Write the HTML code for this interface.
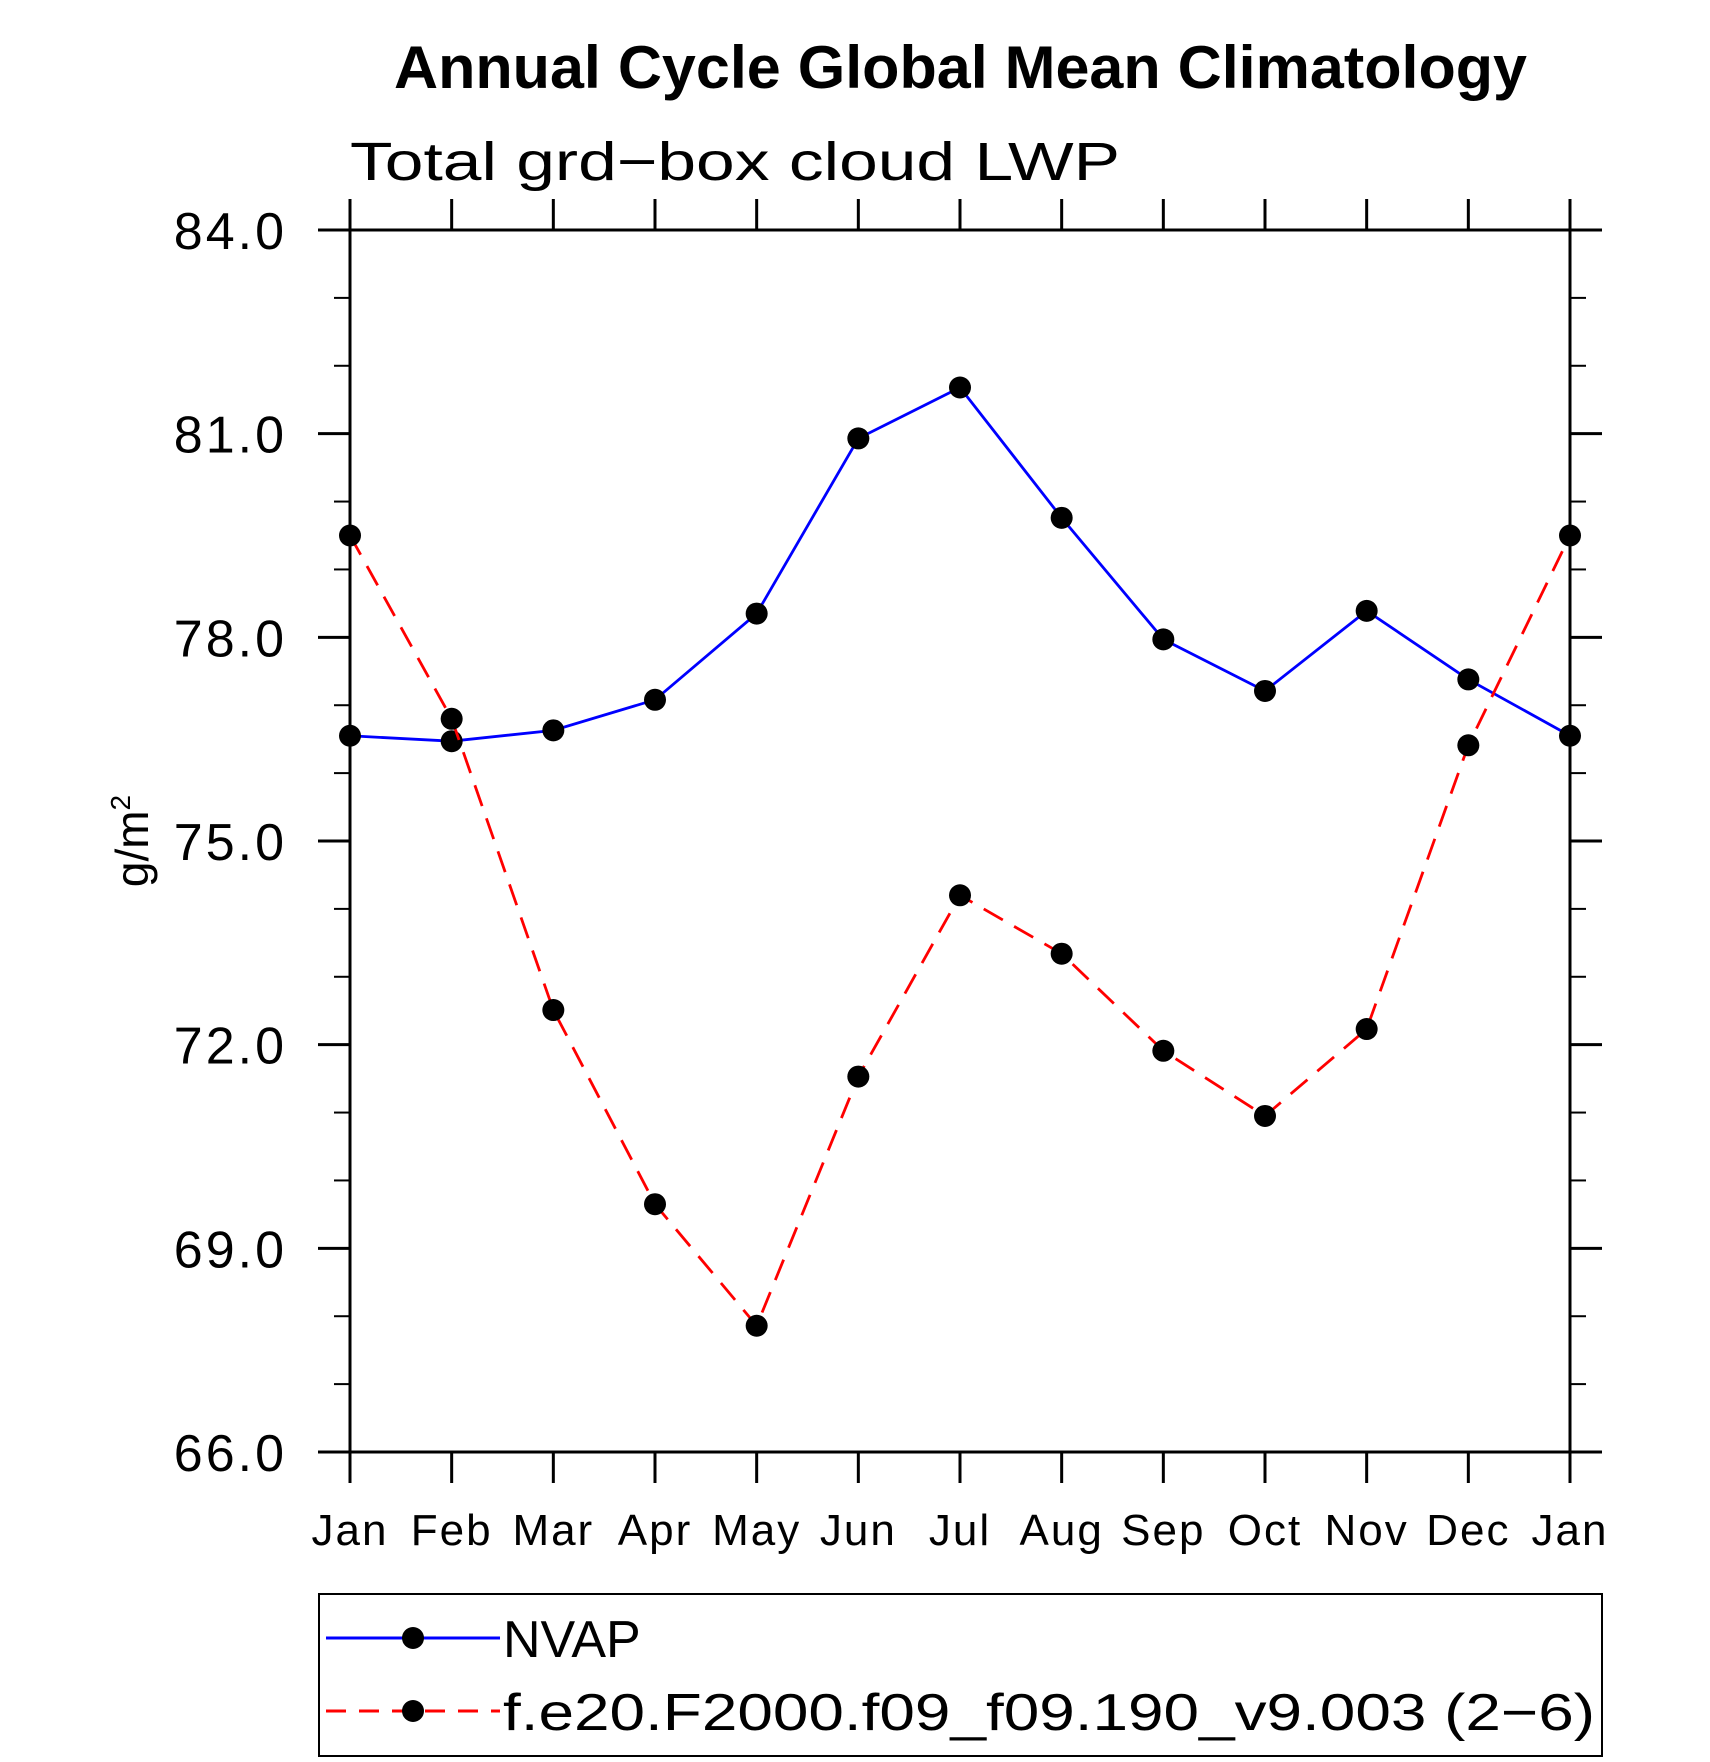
<!DOCTYPE html>
<html><head><meta charset="utf-8"><style>body{margin:0;background:#fff}svg{display:block}text{font-family:"Liberation Sans",sans-serif}</style></head>
<body>
<svg id="chart" width="1710" height="1762" viewBox="0 0 1710 1762" xmlns="http://www.w3.org/2000/svg">
<text x="394" y="88" font-size="60" font-weight="bold" textLength="1133" lengthAdjust="spacingAndGlyphs">Annual Cycle Global Mean Climatology</text>
<text x="350" y="180" font-size="54" textLength="770" lengthAdjust="spacingAndGlyphs">Total grd−box cloud LWP</text>
<text transform="translate(148,841) rotate(-90)" font-size="46" text-anchor="middle">g/m<tspan font-size="28" dy="-18">2</tspan></text>
<g id="grid"></g>
<g id="series"></g>
<rect x="350" y="230" width="1220" height="1222" fill="none" stroke="#000" stroke-width="3"/>
<g>
<rect x="319" y="1594" width="1283" height="162" fill="none" stroke="#000" stroke-width="2"/>
<line x1="326" y1="1638" x2="500" y2="1638" stroke="#00f" stroke-width="3"/>
<circle cx="413" cy="1638" r="11"/>
<text x="503" y="1657" font-size="52">NVAP</text>
<line x1="326" y1="1711" x2="500" y2="1711" stroke="#f00" stroke-width="3" stroke-dasharray="20,13"/>
<circle cx="413" cy="1711" r="11"/>
<text x="503" y="1730" font-size="52" textLength="1092" lengthAdjust="spacingAndGlyphs">f.e20.F2000.f09_f09.190_v9.003 (2−6)</text>
</g>
</svg>
<script>
const months = ["Jan","Feb","Mar","Apr","May","Jun","Jul","Aug","Sep","Oct","Nov","Dec","Jan"];
const nvap = [76.55,76.47,76.63,77.08,78.35,80.93,81.68,79.76,77.97,77.21,78.39,77.38,76.55];
const model = [79.5,76.8,72.51,69.65,67.86,71.53,74.2,73.34,71.91,70.95,72.23,76.41,79.5];
const yTicks = ["66.0","69.0","72.0","75.0","78.0","81.0","84.0"];
const NS="http://www.w3.org/2000/svg";
const X0=350,X1=1570,Y0=1452,Y1=230,YMIN=66,YMAX=84;
const xs=i=>X0+(X1-X0)*i/(months.length-1);
const ys=v=>Y0-(Y0-Y1)*(v-YMIN)/(YMAX-YMIN);
function mk(tag,attrs,parent){const e=document.createElementNS(NS,tag);for(const k in attrs)e.setAttribute(k,attrs[k]);parent.appendChild(e);return e;}
const g=document.getElementById('grid'),s=document.getElementById('series');
months.forEach((m,i)=>{
  const x=xs(i);
  const t=mk('line',{x1:x,x2:x,y1:Y0,y2:Y0+31,stroke:'#000','stroke-width':3},g);
  
  
  const t2=mk('line',{x1:x,x2:x,y1:Y1,y2:Y1-31,stroke:'#000','stroke-width':3},g);
  
  
  const l=mk('text',{x:x,y:1545,'font-size':44,'text-anchor':'middle','letter-spacing':2},g);
  l.textContent=m;
  
  
});
for(let v=YMIN;v<=YMAX;v++){
  const y=ys(v),maj=(v-YMIN)%3===0,len=maj?32:16;
  const a=mk('line',{x1:X0-len,x2:X0,y1:y,y2:y,stroke:'#000','stroke-width':maj?3:2},g);
  
  
  const b=mk('line',{x1:X1,x2:X1+len,y1:y,y2:y,stroke:'#000','stroke-width':maj?3:2},g);
  
  
}
yTicks.forEach(t=>{
  const l=mk('text',{x:287,y:ys(parseFloat(t))+19,'font-size':52,'text-anchor':'end','letter-spacing':3},g);
  l.textContent=t;
  
  
});
function series(vals,color,dash,name){
  const p=mk('polyline',{points:vals.map((v,i)=>xs(i)+','+ys(v)).join(' '),fill:'none',stroke:color,'stroke-width':2.8},s);
  if(dash)p.setAttribute('stroke-dasharray',dash);
  
  
  vals.forEach((v,i)=>{
    const c=mk('circle',{cx:xs(i),cy:ys(v),r:11,fill:'#000'},s);
    
    
  });
}
series(nvap,'#00f',null,'nvap');
series(model,'#f00','22,13','model');
</script>
</body></html>
